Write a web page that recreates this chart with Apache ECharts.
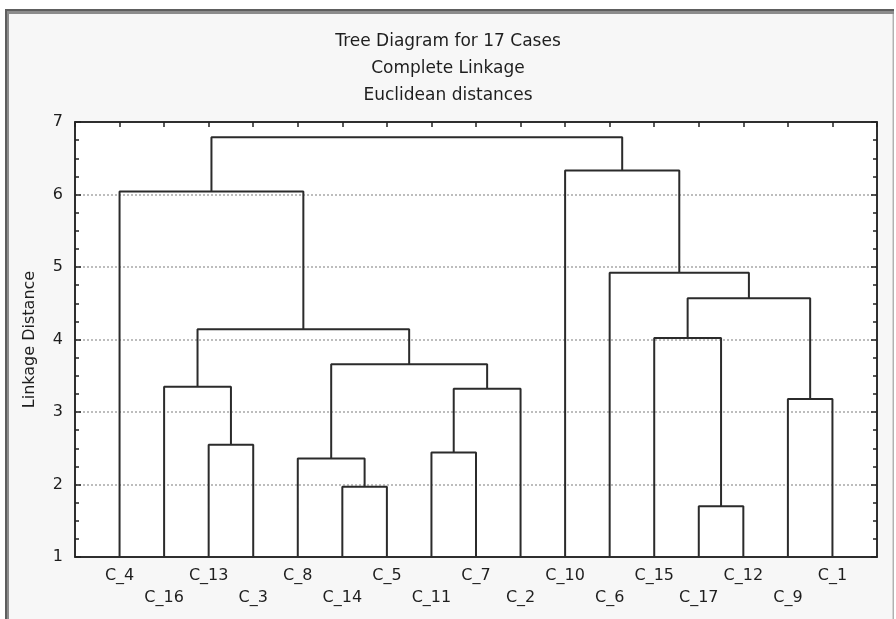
<!DOCTYPE html>
<html>
<head>
<meta charset="utf-8">
<script src="https://cdn.jsdelivr.net/npm/echarts@6/dist/echarts.min.js"></script>
<style>
html,body{margin:0;padding:0;background:#fff;}
#chart{width:896px;height:619px;}
</style>
</head>
<body>
<div id="chart"></div>
<script>
// Leaf order along the horizontal axis
var leaves = ['C_4','C_16','C_13','C_3','C_8','C_14','C_5','C_11','C_7','C_2','C_10','C_6','C_15','C_17','C_12','C_9','C_1'];
// Linkage steps: cluster K(i+1) = mergeA[i] + mergeB[i] at linkage distance mergeHeight[i]
var mergeA = ['C_17','C_14','C_8','C_11','C_13','C_9','K4','C_16','K3','C_15','K8','K10','C_6','C_4','C_10','K14'];
var mergeB = ['C_12','C_5','K2','C_7','C_3','C_1','C_2','K5','K7','K1','K9','K6','K12','K11','K13','K15'];
var mergeHeight = [1.70, 1.97, 2.36, 2.44, 2.55, 3.18, 3.32, 3.35, 3.66, 4.02, 4.14, 4.57, 4.92, 6.04, 6.33, 6.79];
var yTicks = [1, 2, 3, 4, 5, 6, 7];
var titleLines = ['Tree Diagram for 17 Cases', 'Complete Linkage', 'Euclidean distances'];
var yName = 'Linkage Distance';

var font = 'DejaVu Sans';
var yMin = yTicks[0], yMax = yTicks[yTicks.length - 1];

// Build dendrogram path data (in axis units) from the linkage table
var node = {};
leaves.forEach(function (n, i) { node[n] = { x: i + 1, h: yMin }; });
var linkData = [];
mergeA.forEach(function (a, i) {
  var A = node[a], B = node[mergeB[i]], h = mergeHeight[i];
  linkData.push([A.x, A.h], [A.x, h], [B.x, h], [B.x, B.h], '-');
  node['K' + (i + 1)] = { x: (A.x + B.x) / 2, h: h };
});

var chart = echarts.init(document.getElementById('chart'));
chart.setOption({
  backgroundColor: '#ffffff',
  animation: false,
  graphic: [
    { type: 'rect', z: -20, silent: true, shape: { x: 5, y: 9, width: 889, height: 620 }, style: { fill: '#5e5e5e' } },
    { type: 'rect', z: -19, silent: true, shape: { x: 7, y: 11, width: 887, height: 620 }, style: { fill: '#8c8c8c' } },
    { type: 'rect', z: -18, silent: true, shape: { x: 9, y: 14, width: 884, height: 620 }, style: { fill: '#f7f7f7' } },
    { type: 'rect', z: -17, silent: true, shape: { x: 892, y: 14, width: 1.5, height: 620 }, style: { fill: '#d6d6d6' } }
  ],
  title: {
    text: titleLines.join('\n'),
    left: 'center',
    top: 28,
    padding: 0,
    textStyle: { fontFamily: font, fontSize: 17, fontWeight: 'normal', color: '#1e1e1e', lineHeight: 27 }
  },
  grid: {
    left: 75, right: 19, top: 122, bottom: 62,
    show: true, backgroundColor: '#ffffff', borderColor: '#222', borderWidth: 1.5
  },
  xAxis: [{
    type: 'value', min: 0, max: leaves.length + 1, interval: 1, position: 'bottom',
    axisLine: { show: true, onZero: false, lineStyle: { color: '#222', width: 1.5 } },
    axisTick: { show: false },
    splitLine: { show: false },
    axisLabel: {
      show: true, margin: 8, showMinLabel: true, showMaxLabel: true, hideOverlap: false,
      fontFamily: font, fontSize: 16, color: '#1e1e1e', lineHeight: 22,
      formatter: function (v) {
        var i = Math.round(v) - 1;
        if (i < 0 || i >= leaves.length) return '';
        return (i % 2 === 0) ? leaves[i] : '\n' + leaves[i];
      }
    }
  }, {
    type: 'value', min: 0, max: leaves.length + 1, interval: 1, position: 'top',
    axisLine: { show: true, onZero: false, lineStyle: { color: '#222', width: 1.5 } },
    axisTick: { show: true, inside: true, length: 5, lineStyle: { color: '#222', width: 1.5 } },
    splitLine: { show: false },
    axisLabel: { show: false }
  }],
  yAxis: [{
    type: 'value', min: yMin, max: yMax, interval: 1, position: 'left',
    name: yName, nameLocation: 'middle', nameRotate: 90, nameGap: 37,
    nameTextStyle: { fontFamily: font, fontSize: 16, color: '#1e1e1e' },
    axisLine: { show: true, onZero: false, lineStyle: { color: '#222', width: 1.5 } },
    axisTick: { show: true, inside: true, length: 6, lineStyle: { color: '#222', width: 1.5 } },
    minorTick: { show: true, splitNumber: 4, length: 4, lineStyle: { color: '#222', width: 1.5 } },
    splitLine: { show: true, showMinLine: false, showMaxLine: false, lineStyle: { color: '#a8a8a8', type: [2, 2], width: 1.5 } },
    axisLabel: { margin: 12, fontFamily: font, fontSize: 16, color: '#1e1e1e' }
  }, {
    type: 'value', min: yMin, max: yMax, interval: 1, position: 'right',
    axisLine: { show: true, onZero: false, lineStyle: { color: '#222', width: 1.5 } },
    axisTick: { show: true, inside: true, length: 6, lineStyle: { color: '#222', width: 1.5 } },
    minorTick: { show: true, splitNumber: 4, length: 4, lineStyle: { color: '#222', width: 1.5 } },
    splitLine: { show: false },
    axisLabel: { show: false }
  }],
  series: [{
    type: 'line',
    xAxisIndex: 0, yAxisIndex: 0,
    data: linkData,
    connectNulls: false,
    symbol: 'none',
    lineStyle: { color: '#2b2b2b', width: 2 },
    z: 5
  }]
});
</script>
</body>
</html>
